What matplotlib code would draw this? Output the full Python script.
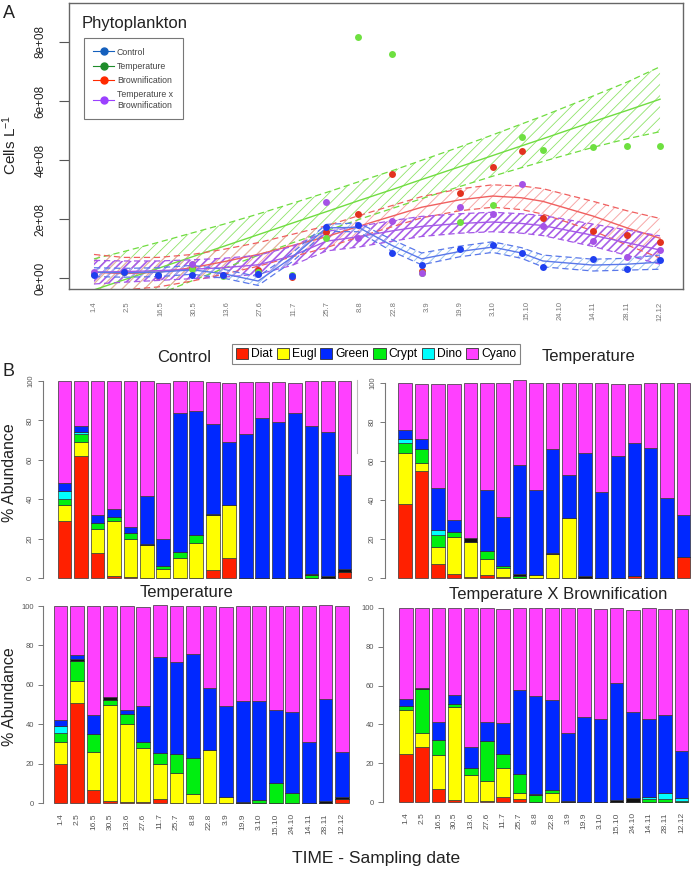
import matplotlib.pyplot as plt
import numpy as np
from matplotlib.lines import Line2D
from matplotlib.patches import Patch

plt.rcParams['font.family'] = ['Liberation Sans', 'DejaVu Sans']
plt.rcParams['mathtext.default'] = 'regular'

W, H = 693, 871

dates = ["1.4", "2.5", "16.5", "30.5", "13.6", "27.6", "11.7", "25.7", "8.8",
         "22.8", "3.9", "19.9", "3.10", "15.10", "24.10", "14.11", "28.11", "12.12"]
# where each sampling sits on the x axis of panel A (tick slots 0..17)
pos = [0, 0.9, 1.93, 2.95, 3.88, 4.93, 5.95, 6.98, 7.94, 8.96, 9.84, 10.98,
       11.97, 12.84, 13.48, 14.99, 16.01, 17.0]

# ---- panel A: cells per litre, in units of 1e8 ----
control = [0.12, 0.2, 0.1, 0.1, 0.12, 0.15, 0.08, 1.73, 1.8, 0.85, 0.44, 0.98, 1.12, 0.85, 0.38, 0.64, 0.3, 0.61]
temperature = [0.15, 0.22, 0.1, 0.3, 0.08, 0.2, 0.1, 1.36, 8.17, 7.6, 0.17, 1.9, 2.47, 4.78, 4.34, 4.44, 4.47, 4.47]
brownification = [0.13, 0.2, 0.08, 0.35, 0.1, 0.27, 0.05, 1.55, 2.17, 3.53, 0.24, 2.88, 3.76, 4.3, 2.03, 1.59, 1.46, 1.22]
temp_x_brown = [0.2, 0.24, 0.08, 0.48, 0.1, 0.15, 0.08, 2.58, 1.36, 1.93, 0.17, 2.4, 2.17, 3.18, 1.76, 1.25, 0.71, 0.95]

# fitted curves (centre) and half width of their confidence band
control_fit = [0.2, 0.18, 0.2, 0.28, 0.15, -0.1, 0.7, 1.7, 1.72, 1.1, 0.65, 0.9, 1.05, 0.85, 0.58, 0.44, 0.47, 0.54]
control_hw = [0.15, 0.15, 0.15, 0.15, 0.15, 0.15, 0.15, 0.12, 0.15, 0.2, 0.2, 0.18, 0.18, 0.18, 0.2, 0.2, 0.2, 0.24]
temperature_fit = [-0.4, -0.06, 0.33, 0.72, 1.07, 1.47, 1.86, 2.25, 2.62, 3.0, 3.34, 3.77, 4.15, 4.48, 4.72, 5.3, 5.68, 6.06]
temperature_hw = [1.05, 0.96, 0.88, 0.81, 0.75, 0.7, 0.67, 0.65, 0.64, 0.64, 0.65, 0.67, 0.7, 0.74, 0.77, 0.87, 0.96, 1.1]
brown_fit = [0.2, 0.15, 0.2, 0.35, 0.55, 0.8, 1.1, 1.4, 1.75, 2.1, 2.4, 2.65, 2.78, 2.72, 2.6, 2.1, 1.7, 1.35]
brown_hw = [0.6, 0.55, 0.5, 0.45, 0.42, 0.4, 0.38, 0.37, 0.36, 0.36, 0.36, 0.37, 0.38, 0.4, 0.43, 0.5, 0.58, 0.67]
txb_fit = [0.2, 0.22, 0.25, 0.3, 0.35, 0.45, 0.75, 1.25, 1.4, 1.6, 1.75, 1.85, 1.9, 1.85, 1.78, 1.45, 1.2, 0.95]
txb_hw = [0.4, 0.36, 0.33, 0.32, 0.32, 0.32, 0.32, 0.33, 0.35, 0.35, 0.34, 0.33, 0.33, 0.33, 0.34, 0.38, 0.43, 0.48]

# ---- panel B: % abundance, stack order bottom -> top ----
groups = ["Diat", "Eugl", "Crypt", "Dino", "Other", "Green", "Cyano"]
group_colors = {"Diat": "#ff2000", "Eugl": "#ffff00", "Crypt": "#00ee10", "Dino": "#00ffff",
                "Other": "#111111", "Green": "#0028ff", "Cyano": "#ff40ff"}

ctl_abund = [
    [29, 62, 12.5, 1, 0.5, 0, 0, 0, 0, 4, 10, 0, 0, 0, 0, 0, 0, 3],
    [8, 7, 12.5, 28, 19.5, 17, 4.5, 10, 18, 28, 27, 0, 0, 0, 0, 0, 0, 0],
    [3, 4, 3, 2, 3, 0, 1.5, 3, 4, 0, 0, 0, 0, 0, 0, 1.5, 0, 0],
    [4, 1, 0, 0, 0, 0, 0, 0, 0, 0, 0, 0, 0, 0, 0, 0, 0, 0],
    [0, 0, 0, 0, 0, 0.5, 0, 0, 0, 0.5, 0, 0, 0, 0, 0, 0.5, 1, 1.5],
    [4, 3, 4, 4, 3, 24, 14, 71, 63, 45.5, 32, 73, 81, 79, 84, 75, 73, 48],
    [52, 23, 68, 65, 74, 58.5, 79, 16, 15, 21.5, 30, 26.5, 18.5, 20.5, 15, 23, 26, 47.5],
]
temp_abund = [
    [38, 55, 7, 2, 0.5, 1.5, 0.5, 0, 0, 0, 0, 0, 0, 0, 1, 0, 0, 11],
    [26, 4, 9, 19, 18, 8.5, 4.5, 0, 1.5, 12.5, 31, 0, 0, 0, 0, 0, 0, 0],
    [5, 7, 6, 2.5, 0, 4, 1, 1, 0, 0, 0, 0, 0, 0, 0, 0, 0, 0],
    [2.5, 0, 2.5, 0, 0, 0, 0, 0, 0, 0, 0, 0, 0, 0, 0, 0, 0, 0],
    [0, 0, 0, 0, 2, 0, 0, 1, 0, 0.5, 0, 1, 0, 0, 0, 0, 0, 0],
    [4.5, 5.5, 21.5, 6, 0, 31, 25.5, 56, 43.5, 53, 22, 63, 44, 62.5, 68, 66.5, 41, 21.5],
    [24, 28, 53.5, 70, 79.5, 55, 68.5, 43.5, 55, 34, 47, 36, 56, 37, 30.5, 33.5, 59, 67.5],
]
temp2_abund = [
    [20, 51, 6.5, 1, 0.5, 0.5, 2, 0, 0, 0, 0, 0, 0, 0, 0, 0, 0, 2],
    [11, 11, 19.5, 49, 39.5, 27.5, 18, 15, 4.5, 27, 3, 0, 0, 0, 0, 0, 0, 0],
    [4.5, 10, 9, 2.5, 5, 3, 5.5, 10, 18.5, 0, 0, 0, 1.5, 10, 5, 0, 0, 0],
    [3.5, 0, 0, 0, 0, 0, 0, 0, 0, 0, 0, 0, 0, 0, 0, 0, 0, 0],
    [0, 1, 0, 1.5, 0, 0, 0, 0, 0, 0, 0, 0.5, 0, 0, 0, 0, 1, 1],
    [3, 2, 9.5, 0, 2, 18, 48.5, 46.5, 52.5, 31.5, 46, 51.5, 50.5, 37, 41, 31, 52, 23],
    [58, 25, 55.5, 46, 53, 50.5, 26.5, 28.5, 24.5, 41.5, 50.5, 48, 48, 53, 54, 69, 47.5, 74],
]
txb_abund = [
    [24.5, 28.5, 6.5, 1, 0, 0.5, 2.5, 1.5, 0, 0, 0, 0, 0, 0, 0, 0, 0, 0],
    [23, 7, 17.5, 48, 14, 10.5, 15, 3, 0, 4.5, 0, 0, 0, 0, 0, 0, 0, 0],
    [2, 22.5, 8, 1.5, 3.5, 20.5, 7, 10, 3.5, 1.5, 0, 0, 0, 0, 0, 1.5, 1.5, 0.5],
    [0, 0, 0, 0, 0, 0, 0, 0, 0, 0, 0, 0, 0, 0, 0, 1, 3, 1.5],
    [0, 1, 0, 0, 0, 0, 0, 0, 0.5, 0, 0.5, 0, 0, 1, 2, 0, 0, 0],
    [3.5, 0, 9, 4.5, 11, 9.5, 16, 43, 50.5, 46.5, 35, 44, 43, 60.5, 44.5, 40.5, 40.5, 24.5],
    [47, 41, 59, 45, 71.5, 59, 59, 42.5, 45.5, 47.5, 64.5, 56, 56.5, 38.5, 52.5, 57, 54.5, 73],
]


def px_rect(x0, y0, x1, y1):
    ''' pixel box (top-left origin) -> figure fraction rect '''
    return [x0 / W, 1 - y1 / H, (x1 - x0) / W, (y1 - y0) / H]


fig = plt.figure(figsize=(W / 100, H / 100), dpi=100)

# ================= panel A =================
axA = fig.add_axes(px_rect(69, 3, 683, 289))
x = np.array(pos)
series = [
    (temperature_fit, temperature_hw, "#70dd40", "#8fe36a", "///", 0.6),
    (brown_fit, brown_hw, "#f06060", "#f7a8a8", "///", 0.7),
    (txb_fit, txb_hw, "#a55ae8", "#a85ee8", "////", 1.2),
    (control_fit, control_hw, "#5a78ea", "#9cc4f0", "////", 0.7),
]
for fit, hw, lc, hc, hatch, hlw in series:
    fit = np.array(fit)
    hw = np.array(hw)
    with plt.rc_context({'hatch.linewidth': hlw}):
        axA.fill_between(x, fit - hw, fit + hw, facecolor='none', edgecolor=hc,
                         hatch=hatch, linewidth=0)
    axA.plot(x, fit + hw, color=lc, lw=0.9, ls=(0, (5, 3)))
    axA.plot(x, fit - hw, color=lc, lw=0.9, ls=(0, (5, 3)))
    axA.plot(x, fit, color=lc, lw=1.0)

point_sets = [(brownification, "#e2321e"), (temperature, "#6ee040"),
              (temp_x_brown, "#a552e6"), (control, "#1f3ff0")]
for vals, c in point_sets:
    axA.plot(x, vals, 'o', color=c, ms=5, mec='none', zorder=5)

axA.set_xlim(-0.75, 17.69)
axA.set_ylim(-0.37, 9.32)
axA.set_xticks(range(len(dates)))
axA.set_xticklabels(dates, rotation=90, fontsize=5.5, color='#777')
axA.tick_params(axis='x', length=0, pad=9)
axA.set_yticks([0, 2, 4, 6, 8])
axA.set_yticklabels(["0e+00", "2e+08", "4e+08", "6e+08", "8e+08"], rotation=90,
                    va='center', fontsize=8.5, color='#222')
axA.tick_params(axis='y', length=7, width=0.8, color='#555', pad=9)
for s in axA.spines.values():
    s.set_color('#666')
    s.set_linewidth(1.0)
axA.text(0.021, 0.93, "Phytoplankton", transform=axA.transAxes, fontsize=12,
         va='center', ha='left', color='#222')

handles = [Line2D([], [], color=c, marker='o', ms=5, lw=0.8)
           for c in ["#1560bd", "#1e8c2a", "#ff2a00", "#9b40ff"]]
leg = axA.legend(handles, ["Control", "Temperature", "Brownification",
                           "Temperature x\nBrownification"],
                 loc='upper left', bbox_to_anchor=(0.024, 0.878), borderaxespad=0,
                 fontsize=6.3, frameon=True, fancybox=False, edgecolor='#555',
                 handlelength=2.4, handletextpad=0.3, labelspacing=0.6,
                 borderpad=1.1)
leg.get_frame().set_linewidth(0.8)
for t in leg.get_texts():
    t.set_color('#444')

fig.text(9 / W, 1 - 14 / H, "A", fontsize=13, ha='center', va='center', color='#222')
fig.text(10 / W, 1 - 145 / H, "Cells L$^{-1}$", fontsize=11, rotation=90,
         ha='center', va='center', color='#222')

# ================= panel B =================
panels = [
    # data, title, (spine x, right x, y of 0, y of 100, first bar centre, spacing), title pos, bottom row
    (ctl_abund, "Control", (43, 356, 578, 381, 64.5, 16.47), (184, 358), False),
    (temp_abund, "Temperature", (385, 692, 578, 383, 405, 16.38), (588, 357), False),
    (temp2_abund, "Temperature", (43, 352, 803, 606, 60.5, 16.56), (187, 593), True),
    (txb_abund, "Temperature X Brownification", (383, 692, 802, 608, 406, 16.2), (558, 594), True),
]
for data, title, (sx, rx, y0, y100, c0, sp), (tx, ty), bottom_row in panels:
    scale = (y0 - y100) / 100.0
    top_px = y100 - 3 * scale
    bot_px = y0 + 1 * scale
    ax = fig.add_axes(px_rect(sx, top_px, rx, bot_px))
    xb = np.arange(len(dates))
    base = np.zeros(len(dates))
    for g, vals in zip(groups, data):
        vals = np.array(vals, dtype=float)
        ax.bar(xb, vals, width=0.83, bottom=base, color=group_colors[g],
               edgecolor='#333', linewidth=0.5)
        base += vals
    ax.set_xlim((sx - c0) / sp, (rx - c0) / sp)
    ax.set_ylim(-1, 103)
    for side in ['top', 'right', 'bottom']:
        ax.spines[side].set_visible(False)
    ax.spines['left'].set_bounds(0, 100)
    ax.spines['left'].set_color('#777')
    ax.spines['left'].set_linewidth(0.8)
    ax.set_yticks([0, 20, 40, 60, 80, 100])
    if bottom_row:
        ax.set_yticklabels(["0", "20", "40", "60", "80", "100"], fontsize=5.5, color='#555')
        ax.set_xticks(xb)
        ax.set_xticklabels(dates, rotation=90, fontsize=6, color='#555')
        ax.tick_params(axis='x', length=0, pad=6)
    else:
        ax.set_yticklabels(["0", "20", "40", "60", "80", "100"], fontsize=5.5,
                           color='#555', rotation=90, va='center')
        ax.set_xticks([])
    ax.tick_params(axis='y', length=3.5, width=0.7, color='#777', pad=3)
    fig.text(tx / W, 1 - ty / H, title, fontsize=12, ha='center', va='center', color='#222')

fig.text(10 / W, 1 - 473 / H, "% Abundance", fontsize=11.5, rotation=90,
         ha='center', va='center', color='#222')
fig.text(10 / W, 1 - 697 / H, "% Abundance", fontsize=11.5, rotation=90,
         ha='center', va='center', color='#222')
fig.text(376 / W, 1 - 858 / H, "TIME - Sampling date", fontsize=12.5,
         ha='center', va='center', color='#222')
fig.text(9 / W, 1 - 372 / H, "B", fontsize=13, ha='center', va='center', color='#222')

# stray separator line between the two upper bar panels
fig.add_artist(Line2D([357 / W, 357 / W], [1 - 380 / H, 1 - 453 / H], color='#bbb', lw=0.8))

leg_order = ["Diat", "Eugl", "Green", "Crypt", "Dino", "Cyano"]
bh = [Patch(facecolor=group_colors[g], edgecolor='#333', linewidth=0.6) for g in leg_order]
legB = fig.legend(bh, leg_order, ncol=6, loc='center', bbox_to_anchor=(376 / W, 1 - 354 / H),
                  fontsize=8.7, frameon=True, fancybox=False, edgecolor='#666',
                  handlelength=1.0, handleheight=1.0, handletextpad=0.25,
                  columnspacing=0.35, borderpad=0.3)
legB.get_frame().set_linewidth(0.8)

fig.savefig("out.png", dpi=100)
